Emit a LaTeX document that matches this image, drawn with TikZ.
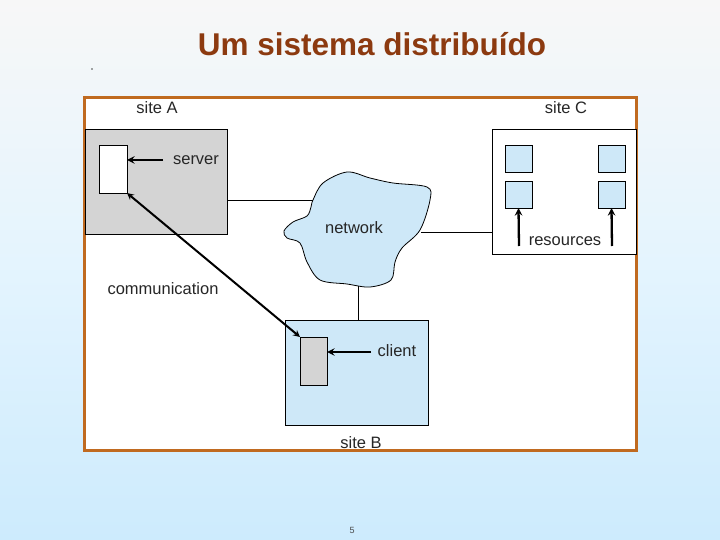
\documentclass[tikz,border=0pt]{standalone}
\usepackage{xcolor}
\usepackage{fontspec}
\setmainfont{Liberation Sans}
\usepackage{tikz}
\usetikzlibrary{arrows, positioning, calc}

\definecolor{framebrown}{RGB}{192,106,32}
\definecolor{titlebrown}{RGB}{140,58,16}
\definecolor{netblue}{RGB}{206,232,248}
\definecolor{boxgrey}{RGB}{212,212,212}
\definecolor{slideblue}{RGB}{205,235,253}

\begin{document}
\begin{tikzpicture}[x=1pt, y=-1pt, >=stealth]
    \tikzset{
        sitebox/.style={rectangle, draw=black, line width=0.8pt, inner sep=0pt, outer sep=0pt, anchor=north west},
        unit/.style={rectangle, draw=black, line width=0.8pt, inner sep=0pt, outer sep=0pt, anchor=north west},
        label/.style={font=\fontsize{16.5}{19}\selectfont, text=black!85, inner sep=0pt},
        link/.style={draw, line width=0.8pt},
        tip/.style={draw, ->, line width=2.3pt},
        comm/.style={draw, <->, line width=2pt}
    }

    % slide background
    \shade[top color=gray!6, bottom color=slideblue, middle color=slideblue!55] (0,0) rectangle (720,540);
    \useasboundingbox (0,0) rectangle (720,540);

    \node (Title) [font=\fontsize{31.5}{36}\selectfont\bfseries, text=titlebrown] at (372,44) {Um sistema distribuído};
    \fill[black!70] (92,69) circle (0.8);

    % frame
    \node (Frame) [rectangle, draw=framebrown, line width=3.5pt, fill=white, minimum width=552, minimum height=353, anchor=north west, inner sep=0pt, outer sep=0pt] at (84.5,97.5) {};

    % site A
    \node (SiteA) [sitebox, fill=boxgrey, minimum width=142, minimum height=105] at (85,129) {};
    \node (Server) [unit, fill=white, minimum width=28, minimum height=48] at (99,145) {};
    \node (SiteAText) [label] at (157,108) {site A};
    \node (ServerText) [label] at (196,160) {server};
    \coordinate (ServerTail) at (163,160);

    % site C
    \node (SiteC) [sitebox, fill=white, minimum width=144, minimum height=125] at (492,129) {};
    \node (Res1) [unit, fill=netblue, minimum width=27, minimum height=27] at (505,145) {};
    \node (Res2) [unit, fill=netblue, minimum width=27, minimum height=27] at (505,181) {};
    \node (Res3) [unit, fill=netblue, minimum width=27, minimum height=27] at (598,145) {};
    \node (Res4) [unit, fill=netblue, minimum width=27, minimum height=27] at (598,181) {};
    \node (SiteCText) [label] at (566,108) {site C};
    \node (ResText) [label] at (565,241) {resources};
    \coordinate (ResTailL) at (519,246);
    \coordinate (ResTailR) at (612,246);

    % network cloud
    \draw[fill=netblue, line width=0.8pt] plot[smooth cycle, tension=0.55] coordinates {
        (313,200) (323,183) (347,172) (370,178) (393,183) (427,187) (430,200) (420,230)
        (402,248) (395,262) (391,280) (370,287) (347,284) (320,280) (307,262) (300,243)
        (287,238) (284,231) (293,222) (307,216) (311,207)};
    \node (Network) [label] at (354,228) {network};
    \coordinate (NetW) at (313,200);
    \coordinate (NetE) at (421,232);
    \coordinate (NetS) at (358,286);

    % site B
    \node (SiteB) [sitebox, fill=netblue, minimum width=143, minimum height=105] at (285,320) {};
    \node (Client) [unit, fill=boxgrey, minimum width=27, minimum height=48] at (300,337) {};
    \node (SiteBText) [label] at (361,443) {site B};
    \node (ClientText) [label] at (397,351) {client};
    \coordinate (ClientTail) at (371,352);

    \node (CommText) [label] at (163,289) {communication};

    % connections
    \path [link] (SiteA.east |- NetW) -- (NetW);
    \path [link] (NetE) -- (SiteC.west |- NetE);
    \path [link] (NetS) -- (SiteB.north -| NetS);
    \path [tip] (ServerTail) -- (Server.east |- ServerTail);
    \path [tip] (ClientTail) -- (Client.east |- ClientTail);
    \path [tip] (ResTailL) -- (Res2.south);
    \path [tip] (ResTailR) -- (Res4.south);
    \path [comm] (Server.south east) -- (Client.north west);

    \node (PageNum) [font=\fontsize{9}{10}\selectfont, text=black!70] at (352,530) {5};
\end{tikzpicture}
\end{document}
